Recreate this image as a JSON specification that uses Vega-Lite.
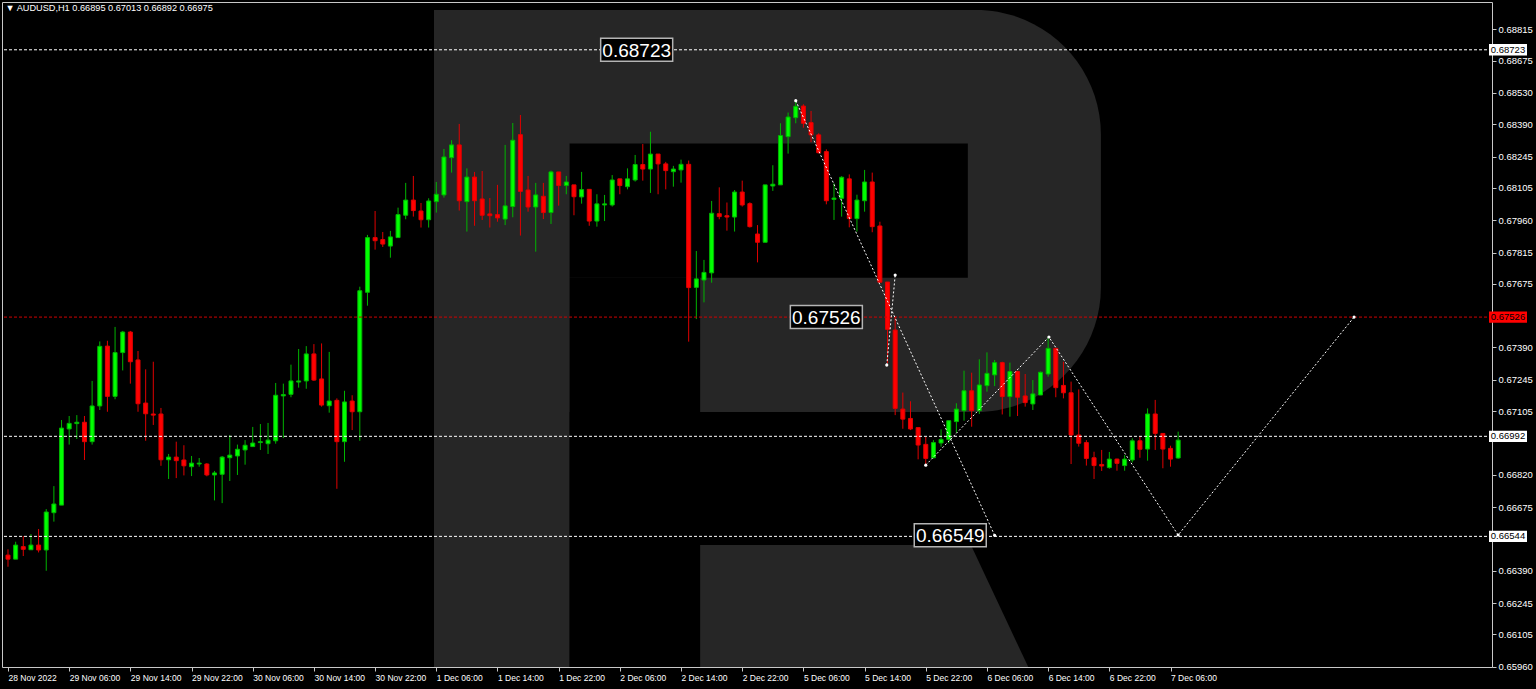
{
 "$schema": "https://vega.github.io/schema/vega-lite/v6.json",
 "width": 1490, "height": 665,
 "autosize": {"type": "none"},
 "padding": {"left": 2, "top": 2, "right": 44, "bottom": 22},
 "background": "#000000",
 "config": {"view": {"stroke": "#c8c8c8", "strokeWidth": 1}, "axis": {"grid": false, "domain": false, "labelOverlap": false, "labelFlush": false, "labelBound": false}},
 "title": {"text": "▼ AUDUSD,H1  0.66895 0.67013 0.66892 0.66975", "anchor": "start", "orient": "top", "offset": -11, "dx": 4, "font": "Liberation Sans", "fontSize": 9.2, "fontWeight": "normal", "color": "#ffffff"},
 "datasets": {
  "candles": [
{"i":0,"o":0.66460,"h":0.66486,"l":0.66408,"c":0.66442},
{"i":1,"o":0.66442,"h":0.66520,"l":0.66442,"c":0.66505},
{"i":2,"o":0.66498,"h":0.66545,"l":0.66456,"c":0.66486},
{"i":3,"o":0.66484,"h":0.66554,"l":0.66484,"c":0.66505},
{"i":4,"o":0.66505,"h":0.66577,"l":0.66472,"c":0.66483},
{"i":5,"o":0.66483,"h":0.66666,"l":0.66390,"c":0.66653},
{"i":6,"o":0.66650,"h":0.66769,"l":0.66610,"c":0.66689},
{"i":7,"o":0.66684,"h":0.67065,"l":0.66684,"c":0.67029},
{"i":8,"o":0.67025,"h":0.67083,"l":0.66955,"c":0.67050},
{"i":9,"o":0.67049,"h":0.67087,"l":0.66980,"c":0.67055},
{"i":10,"o":0.67055,"h":0.67083,"l":0.66886,"c":0.66968},
{"i":11,"o":0.66968,"h":0.67240,"l":0.66955,"c":0.67128},
{"i":12,"o":0.67128,"h":0.67417,"l":0.67110,"c":0.67395},
{"i":13,"o":0.67396,"h":0.67420,"l":0.67102,"c":0.67171},
{"i":14,"o":0.67171,"h":0.67482,"l":0.67158,"c":0.67367},
{"i":15,"o":0.67367,"h":0.67464,"l":0.67287,"c":0.67459},
{"i":16,"o":0.67459,"h":0.67464,"l":0.67228,"c":0.67326},
{"i":17,"o":0.67334,"h":0.67374,"l":0.67102,"c":0.67138},
{"i":18,"o":0.67141,"h":0.67292,"l":0.66972,"c":0.67093},
{"i":19,"o":0.67092,"h":0.67326,"l":0.67043,"c":0.67087},
{"i":20,"o":0.67092,"h":0.67119,"l":0.66860,"c":0.66887},
{"i":21,"o":0.66887,"h":0.66913,"l":0.66801,"c":0.66899},
{"i":22,"o":0.66899,"h":0.66968,"l":0.66805,"c":0.66883},
{"i":23,"o":0.66886,"h":0.66952,"l":0.66817,"c":0.66860},
{"i":24,"o":0.66856,"h":0.66904,"l":0.66814,"c":0.66872},
{"i":25,"o":0.66868,"h":0.66895,"l":0.66856,"c":0.66872},
{"i":26,"o":0.66868,"h":0.66872,"l":0.66813,"c":0.66819},
{"i":27,"o":0.66819,"h":0.66837,"l":0.66705,"c":0.66828},
{"i":28,"o":0.66822,"h":0.66904,"l":0.66693,"c":0.66899},
{"i":29,"o":0.66896,"h":0.66998,"l":0.66792,"c":0.66908},
{"i":30,"o":0.66904,"h":0.66955,"l":0.66819,"c":0.66934},
{"i":31,"o":0.66931,"h":0.66975,"l":0.66865,"c":0.66952},
{"i":32,"o":0.66946,"h":0.67034,"l":0.66946,"c":0.66962},
{"i":33,"o":0.66964,"h":0.67047,"l":0.66931,"c":0.66968},
{"i":34,"o":0.66959,"h":0.67052,"l":0.66913,"c":0.66975},
{"i":35,"o":0.66972,"h":0.67231,"l":0.66959,"c":0.67176},
{"i":36,"o":0.67173,"h":0.67228,"l":0.66984,"c":0.67179},
{"i":37,"o":0.67180,"h":0.67313,"l":0.67167,"c":0.67240},
{"i":38,"o":0.67235,"h":0.67383,"l":0.67210,"c":0.67240},
{"i":39,"o":0.67240,"h":0.67396,"l":0.67205,"c":0.67361},
{"i":40,"o":0.67361,"h":0.67405,"l":0.67240,"c":0.67244},
{"i":41,"o":0.67249,"h":0.67408,"l":0.67125,"c":0.67132},
{"i":42,"o":0.67129,"h":0.67370,"l":0.67098,"c":0.67150},
{"i":43,"o":0.67153,"h":0.67162,"l":0.66757,"c":0.66968},
{"i":44,"o":0.66968,"h":0.67196,"l":0.66878,"c":0.67146},
{"i":45,"o":0.67150,"h":0.67176,"l":0.67020,"c":0.67102},
{"i":46,"o":0.67102,"h":0.67662,"l":0.66972,"c":0.67644},
{"i":47,"o":0.67637,"h":0.67894,"l":0.67577,"c":0.67882},
{"i":48,"o":0.67882,"h":0.68001,"l":0.67828,"c":0.67868},
{"i":49,"o":0.67873,"h":0.67907,"l":0.67840,"c":0.67853},
{"i":50,"o":0.67844,"h":0.67912,"l":0.67792,"c":0.67885},
{"i":51,"o":0.67882,"h":0.68016,"l":0.67882,"c":0.67985},
{"i":52,"o":0.67982,"h":0.68127,"l":0.67964,"c":0.68050},
{"i":53,"o":0.68050,"h":0.68158,"l":0.67976,"c":0.68003},
{"i":54,"o":0.68001,"h":0.68037,"l":0.67927,"c":0.67962},
{"i":55,"o":0.67962,"h":0.68058,"l":0.67927,"c":0.68046},
{"i":56,"o":0.68043,"h":0.68131,"l":0.67994,"c":0.68076},
{"i":57,"o":0.68073,"h":0.68279,"l":0.68061,"c":0.68243},
{"i":58,"o":0.68240,"h":0.68318,"l":0.68173,"c":0.68297},
{"i":59,"o":0.68297,"h":0.68391,"l":0.68003,"c":0.68047},
{"i":60,"o":0.68043,"h":0.68192,"l":0.67909,"c":0.68153},
{"i":61,"o":0.68153,"h":0.68176,"l":0.67935,"c":0.68047},
{"i":62,"o":0.68055,"h":0.68180,"l":0.67961,"c":0.67982},
{"i":63,"o":0.67988,"h":0.68059,"l":0.67927,"c":0.67980},
{"i":64,"o":0.67985,"h":0.68118,"l":0.67953,"c":0.67970},
{"i":65,"o":0.67965,"h":0.68297,"l":0.67938,"c":0.68024},
{"i":66,"o":0.68021,"h":0.68395,"l":0.67973,"c":0.68318},
{"i":67,"o":0.68343,"h":0.68431,"l":0.67891,"c":0.68089},
{"i":68,"o":0.68095,"h":0.68158,"l":0.67998,"c":0.68019},
{"i":69,"o":0.68019,"h":0.68127,"l":0.67819,"c":0.68073},
{"i":70,"o":0.68067,"h":0.68127,"l":0.67965,"c":0.67994},
{"i":71,"o":0.67994,"h":0.68182,"l":0.67943,"c":0.68176},
{"i":72,"o":0.68176,"h":0.68176,"l":0.68025,"c":0.68115},
{"i":73,"o":0.68115,"h":0.68158,"l":0.68076,"c":0.68131},
{"i":74,"o":0.68118,"h":0.68118,"l":0.67982,"c":0.68065},
{"i":75,"o":0.68064,"h":0.68176,"l":0.68034,"c":0.68097},
{"i":76,"o":0.68098,"h":0.68098,"l":0.67935,"c":0.67956},
{"i":77,"o":0.67956,"h":0.68076,"l":0.67931,"c":0.68033},
{"i":78,"o":0.68028,"h":0.68073,"l":0.67956,"c":0.68033},
{"i":79,"o":0.68028,"h":0.68162,"l":0.68021,"c":0.68140},
{"i":80,"o":0.68145,"h":0.68145,"l":0.68076,"c":0.68115},
{"i":81,"o":0.68110,"h":0.68192,"l":0.68098,"c":0.68145},
{"i":82,"o":0.68140,"h":0.68252,"l":0.68133,"c":0.68209},
{"i":83,"o":0.68209,"h":0.68301,"l":0.68137,"c":0.68189},
{"i":84,"o":0.68189,"h":0.68356,"l":0.68082,"c":0.68256},
{"i":85,"o":0.68256,"h":0.68256,"l":0.68076,"c":0.68212},
{"i":86,"o":0.68212,"h":0.68221,"l":0.68098,"c":0.68182},
{"i":87,"o":0.68177,"h":0.68203,"l":0.68110,"c":0.68189},
{"i":88,"o":0.68185,"h":0.68231,"l":0.68128,"c":0.68210},
{"i":89,"o":0.68210,"h":0.68227,"l":0.67416,"c":0.67658},
{"i":90,"o":0.67659,"h":0.67822,"l":0.67517,"c":0.67697},
{"i":91,"o":0.67692,"h":0.67782,"l":0.67592,"c":0.67726},
{"i":92,"o":0.67724,"h":0.68046,"l":0.67680,"c":0.67991},
{"i":93,"o":0.67989,"h":0.68107,"l":0.67964,"c":0.67976},
{"i":94,"o":0.67980,"h":0.68039,"l":0.67913,"c":0.67974},
{"i":95,"o":0.67974,"h":0.68095,"l":0.67909,"c":0.68086},
{"i":96,"o":0.68086,"h":0.68137,"l":0.68021,"c":0.68028},
{"i":97,"o":0.68034,"h":0.68040,"l":0.67927,"c":0.67931},
{"i":98,"o":0.67898,"h":0.67938,"l":0.67771,"c":0.67861},
{"i":99,"o":0.67861,"h":0.68118,"l":0.67861,"c":0.68118},
{"i":100,"o":0.68113,"h":0.68206,"l":0.68091,"c":0.68121},
{"i":101,"o":0.68118,"h":0.68394,"l":0.68118,"c":0.68339},
{"i":102,"o":0.68334,"h":0.68442,"l":0.68258,"c":0.68422},
{"i":103,"o":0.68419,"h":0.68491,"l":0.68394,"c":0.68470},
{"i":104,"o":0.68471,"h":0.68479,"l":0.68374,"c":0.68394},
{"i":105,"o":0.68397,"h":0.68449,"l":0.68309,"c":0.68342},
{"i":106,"o":0.68342,"h":0.68349,"l":0.68259,"c":0.68262},
{"i":107,"o":0.68267,"h":0.68277,"l":0.68031,"c":0.68047},
{"i":108,"o":0.68053,"h":0.68125,"l":0.67961,"c":0.68059},
{"i":109,"o":0.68058,"h":0.68157,"l":0.67976,"c":0.68152},
{"i":110,"o":0.68145,"h":0.68165,"l":0.67928,"c":0.67967},
{"i":111,"o":0.67967,"h":0.68074,"l":0.67909,"c":0.68050},
{"i":112,"o":0.68047,"h":0.68185,"l":0.67998,"c":0.68131},
{"i":113,"o":0.68131,"h":0.68173,"l":0.67906,"c":0.67931},
{"i":114,"o":0.67934,"h":0.67953,"l":0.67682,"c":0.67682},
{"i":115,"o":0.67683,"h":0.67683,"l":0.67319,"c":0.67471},
{"i":116,"o":0.67468,"h":0.67528,"l":0.67087,"c":0.67117},
{"i":117,"o":0.67114,"h":0.67188,"l":0.67026,"c":0.67069},
{"i":118,"o":0.67072,"h":0.67149,"l":0.67020,"c":0.67025},
{"i":119,"o":0.67031,"h":0.67031,"l":0.66889,"c":0.66953},
{"i":120,"o":0.66956,"h":0.66990,"l":0.66866,"c":0.66893},
{"i":121,"o":0.66896,"h":0.66975,"l":0.66893,"c":0.66964},
{"i":122,"o":0.66962,"h":0.67023,"l":0.66946,"c":0.66978},
{"i":123,"o":0.66978,"h":0.67062,"l":0.66961,"c":0.67062},
{"i":124,"o":0.67058,"h":0.67140,"l":0.67008,"c":0.67114},
{"i":125,"o":0.67107,"h":0.67286,"l":0.67062,"c":0.67196},
{"i":126,"o":0.67196,"h":0.67277,"l":0.67035,"c":0.67107},
{"i":127,"o":0.67107,"h":0.67337,"l":0.67092,"c":0.67222},
{"i":128,"o":0.67219,"h":0.67368,"l":0.67192,"c":0.67274},
{"i":129,"o":0.67267,"h":0.67334,"l":0.67217,"c":0.67322},
{"i":130,"o":0.67322,"h":0.67326,"l":0.67090,"c":0.67170},
{"i":131,"o":0.67170,"h":0.67322,"l":0.67080,"c":0.67282},
{"i":132,"o":0.67282,"h":0.67286,"l":0.67083,"c":0.67167},
{"i":133,"o":0.67173,"h":0.67271,"l":0.67125,"c":0.67143},
{"i":134,"o":0.67137,"h":0.67244,"l":0.67110,"c":0.67182},
{"i":135,"o":0.67177,"h":0.67282,"l":0.67177,"c":0.67279},
{"i":136,"o":0.67271,"h":0.67434,"l":0.67259,"c":0.67386},
{"i":137,"o":0.67386,"h":0.67386,"l":0.67167,"c":0.67210},
{"i":138,"o":0.67220,"h":0.67326,"l":0.67162,"c":0.67187},
{"i":139,"o":0.67187,"h":0.67237,"l":0.66868,"c":0.66998},
{"i":140,"o":0.66998,"h":0.67202,"l":0.66946,"c":0.66961},
{"i":141,"o":0.66964,"h":0.66975,"l":0.66861,"c":0.66893},
{"i":142,"o":0.66896,"h":0.66923,"l":0.66801,"c":0.66861},
{"i":143,"o":0.66866,"h":0.66931,"l":0.66837,"c":0.66859},
{"i":144,"o":0.66852,"h":0.66922,"l":0.66847,"c":0.66890},
{"i":145,"o":0.66890,"h":0.66892,"l":0.66838,"c":0.66871},
{"i":146,"o":0.66861,"h":0.66908,"l":0.66838,"c":0.66890},
{"i":147,"o":0.66886,"h":0.66983,"l":0.66875,"c":0.66972},
{"i":148,"o":0.66972,"h":0.66993,"l":0.66896,"c":0.66934},
{"i":149,"o":0.66935,"h":0.67117,"l":0.66883,"c":0.67092},
{"i":150,"o":0.67092,"h":0.67155,"l":0.66931,"c":0.67005},
{"i":151,"o":0.67005,"h":0.67005,"l":0.66849,"c":0.66935},
{"i":152,"o":0.66938,"h":0.66950,"l":0.66856,"c":0.66890},
{"i":153,"o":0.66895,"h":0.67013,"l":0.66892,"c":0.66975}
  ],
  "levels": [
   {"p": 0.68723, "level": "sr"},
   {"p": 0.67526, "level": "pivot"},
   {"p": 0.66992, "level": "sr"},
   {"p": 0.66544, "level": "sr"}
  ],
  "tags": [
   {"i": 82.2, "p": 0.68723},
   {"i": 107.0, "p": 0.67526},
   {"i": 123.2, "p": 0.66549}
  ],
  "forecast": [
   {"seg": "A", "i": 103.0, "p": 0.68495},
   {"seg": "A", "i": 129.0, "p": 0.66549},
   {"seg": "B", "i": 114.9, "p": 0.67311},
   {"seg": "B", "i": 116.0, "p": 0.67714},
   {"seg": "C", "i": 120.0, "p": 0.66863},
   {"seg": "C", "i": 136.1, "p": 0.67437},
   {"seg": "C", "i": 153.0, "p": 0.66550},
   {"seg": "C", "i": 176.0, "p": 0.67526}
  ],
  "logo": [
   {"part": "bowl", "x1": 55.7, "x2": 142.9, "y1": 0.68901, "y2": 0.67101},
   {"part": "hole", "x1": 73.4, "x2": 125.5, "y1": 0.68303, "y2": 0.67702},
   {"part": "gap", "x1": 73.4, "x2": 90.5, "y1": 0.67702, "y2": 0.67101},
   {"part": "stem", "x1": 55.7, "x2": 73.4, "y1": 0.68901, "y2": 0.65959}
  ],
  "leg": [
   {"i": 90.5, "p": 0.66505},
   {"i": 125.9, "p": 0.66505},
   {"i": 133.4, "p": 0.65959}
  ]
 },
 "layer": [
  {
   "data": {"name": "logo"},
   "transform": [{"filter": "datum.part === 'bowl'"}],
   "mark": {"type": "rect", "color": "#262626", "cornerRadiusTopRight": 125, "cornerRadiusBottomRight": 125},
   "encoding": {
    "x": {"field": "x1", "type": "quantitative", "scale": {"domain": [-0.13, 193.38], "nice": false, "zero": false},
     "axis": {"orient": "bottom", "values": [0,8,16,24,32,40,48,56,64,72,80,88,96,104,112,120,128,136,144,152], "tickCount": 60,
      "labelExpr": "['28 Nov 2022','29 Nov 06:00','29 Nov 14:00','29 Nov 22:00','30 Nov 06:00','30 Nov 14:00','30 Nov 22:00','1 Dec 06:00','1 Dec 14:00','1 Dec 22:00','2 Dec 06:00','2 Dec 14:00','2 Dec 22:00','5 Dec 06:00','5 Dec 14:00','5 Dec 22:00','6 Dec 06:00','6 Dec 14:00','6 Dec 22:00','7 Dec 06:00'][round(datum.value/8)]",
      "labelAlign": "left", "labelBaseline": "top", "labelPadding": 2, "labelFont": "Liberation Sans", "labelFontSize": 8.5, "labelColor": "#ffffff",
      "tickColor": "#c8c8c8", "tickSize": 4, "labelOverlap": false, "labelFlush": false, "labelBound": false, "title": null}},
    "x2": {"field": "x2"},
    "y": {"field": "y1", "type": "quantitative", "scale": {"domain": [0.65959, 0.68937], "nice": false, "zero": false},
     "axis": {"orient": "right", "values": [0.68815,0.68675,0.6853,0.6839,0.68245,0.68105,0.6796,0.67815,0.67675,0.6739,0.67245,0.67105,0.6682,0.66675,0.6639,0.66245,0.66105,0.6596], "tickCount": 60,
      "format": ".5f", "labelFont": "Liberation Sans", "labelFontSize": 9.5, "labelColor": "#ffffff", "labelPadding": 2,
      "tickColor": "#c8c8c8", "tickSize": 4, "labelOverlap": false, "labelFlush": false, "labelBound": false, "title": null}},
    "y2": {"field": "y2"}
   }
  },
  {
   "data": {"name": "logo"},
   "transform": [{"filter": "datum.part !== 'bowl'"}],
   "mark": {"type": "rect"},
   "encoding": {
    "x": {"field": "x1", "type": "quantitative", "scale": {"domain": [-0.13, 193.38], "nice": false, "zero": false}},
    "x2": {"field": "x2"},
    "y": {"field": "y1", "type": "quantitative", "scale": {"domain": [0.65959, 0.68937], "nice": false, "zero": false}},
    "y2": {"field": "y2"},
    "color": {"condition": {"test": "datum.part === 'stem'", "value": "#262626"}, "value": "#000000"}
   }
  },
  {
   "data": {"name": "leg"},
   "mark": {"type": "area", "color": "#262626"},
   "encoding": {
    "x": {"field": "i", "type": "quantitative", "scale": {"domain": [-0.13, 193.38], "nice": false, "zero": false}},
    "y": {"field": "p", "type": "quantitative", "scale": {"domain": [0.65959, 0.68937], "nice": false, "zero": false}},
    "y2": {"datum": 0.65959}
   }
  },
  {
   "data": {"name": "candles"},
   "mark": {"type": "rule", "strokeWidth": 1},
   "encoding": {
    "x": {"field": "i", "type": "quantitative", "scale": {"domain": [-0.13, 193.38], "nice": false, "zero": false}},
    "y": {"field": "l", "type": "quantitative", "scale": {"domain": [0.65959, 0.68937], "nice": false, "zero": false}},
    "y2": {"field": "h"},
    "color": {"condition": {"test": "datum.c >= datum.o", "value": "#00b400"}, "value": "#e00000"}
   }
  },
  {
   "data": {"name": "candles"},
   "mark": {"type": "bar", "size": 4, "strokeWidth": 1},
   "encoding": {
    "x": {"field": "i", "type": "quantitative", "scale": {"domain": [-0.13, 193.38], "nice": false, "zero": false}},
    "y": {"field": "o", "type": "quantitative", "scale": {"domain": [0.65959, 0.68937], "nice": false, "zero": false}},
    "y2": {"field": "c"},
    "fill": {"condition": {"test": "datum.c >= datum.o", "value": "#00ff00"}, "value": "#ff0000"},
    "stroke": {"condition": {"test": "datum.c >= datum.o", "value": "#00b400"}, "value": "#e00000"}
   }
  },
  {
   "data": {"name": "levels"},
   "mark": {"type": "rule", "strokeDash": [3, 2], "strokeWidth": 1},
   "encoding": {
    "y": {"field": "p", "type": "quantitative", "scale": {"domain": [0.65959, 0.68937], "nice": false, "zero": false}},
    "color": {"condition": {"test": "datum.level === 'pivot'", "value": "#d00000"}, "value": "#ffffff"}
   }
  },
  {
   "data": {"name": "forecast"},
   "mark": {"type": "line", "strokeDash": [2, 2], "strokeWidth": 1, "color": "#ffffff", "point": {"filled": true, "size": 10, "color": "#ffffff"}},
   "encoding": {
    "x": {"field": "i", "type": "quantitative", "scale": {"domain": [-0.13, 193.38], "nice": false, "zero": false}},
    "y": {"field": "p", "type": "quantitative", "scale": {"domain": [0.65959, 0.68937], "nice": false, "zero": false}},
    "detail": {"field": "seg"}
   }
  },
  {
   "data": {"name": "tags"},
   "mark": {"type": "point", "shape": "M-1,-0.32H1V0.32H-1Z", "size": 5184, "filled": true, "fill": "#000000", "stroke": "#b4b4b4", "strokeWidth": 1.5, "opacity": 1},
   "encoding": {
    "x": {"field": "i", "type": "quantitative", "scale": {"domain": [-0.13, 193.38], "nice": false, "zero": false}},
    "y": {"field": "p", "type": "quantitative", "scale": {"domain": [0.65959, 0.68937], "nice": false, "zero": false}}
   }
  },
  {
   "data": {"name": "tags"},
   "mark": {"type": "text", "font": "Liberation Sans", "fontSize": 19, "color": "#ffffff", "align": "center", "baseline": "middle", "dy": 1},
   "encoding": {
    "x": {"field": "i", "type": "quantitative", "scale": {"domain": [-0.13, 193.38], "nice": false, "zero": false}},
    "y": {"field": "p", "type": "quantitative", "scale": {"domain": [0.65959, 0.68937], "nice": false, "zero": false}},
    "text": {"field": "p", "format": ".5f"}
   }
  },
  {
   "data": {"name": "levels"},
   "mark": {"type": "point", "shape": "M-1,-0.3H1V0.3H-1Z", "size": 1444, "filled": true, "opacity": 1, "xOffset": 21, "strokeWidth": 0},
   "encoding": {
    "x": {"datum": 193.38, "type": "quantitative", "scale": {"domain": [-0.13, 193.38], "nice": false, "zero": false}},
    "y": {"field": "p", "type": "quantitative", "scale": {"domain": [0.65959, 0.68937], "nice": false, "zero": false}},
    "color": {"condition": {"test": "datum.level === 'pivot'", "value": "#ff0000"}, "value": "#ffffff"}
   }
  },
  {
   "data": {"name": "levels"},
   "mark": {"type": "text", "font": "Liberation Sans", "fontSize": 9.5, "color": "#000000", "align": "center", "baseline": "middle", "xOffset": 21},
   "encoding": {
    "x": {"datum": 193.38, "type": "quantitative", "scale": {"domain": [-0.13, 193.38], "nice": false, "zero": false}},
    "y": {"field": "p", "type": "quantitative", "scale": {"domain": [0.65959, 0.68937], "nice": false, "zero": false}},
    "text": {"field": "p", "format": ".5f"}
   }
  }
 ]
}
